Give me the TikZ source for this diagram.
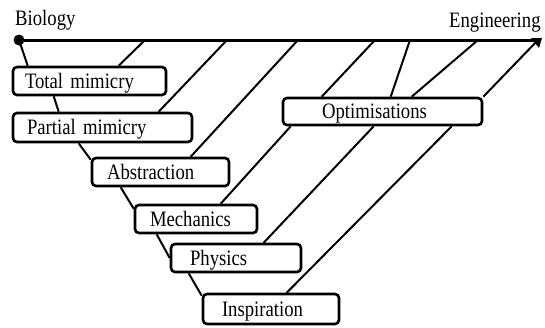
\documentclass[tikz,border=0pt]{standalone}
\usepackage{fontspec}
\newfontfamily\lbl[FakeStretch=0.85,WordSpace=0.8]{Liberation Serif}
\usetikzlibrary{backgrounds}
\tikzset{
  box/.style={draw, fill=white, line width=2.6pt, rounded corners=4pt, inner ysep=0pt,
    text height=18pt, text depth=4pt, align=left, font=\lbl\fontsize{22}{24}\selectfont},
  conn/.style={line width=2pt},
  ttl/.style={anchor=base west, inner sep=0pt, font=\lbl\fontsize{22}{24}\selectfont}
}
\begin{document}
\begin{tikzpicture}[x=1pt,y=-1pt]
\useasboundingbox (0,0) rectangle (545,327);
\node[ttl] (biol) at (15,25) {Biology};
\node[ttl] (engl) at (449,27) {Engineering};
\coordinate (bio) at (19,40);
\coordinate (eng) at (538,40);
\coordinate (t1) at (145,40);
\coordinate (t2) at (227,40);
\coordinate (t3) at (298,40);
\coordinate (t4) at (375,40);
\coordinate (t5) at (410,40);
\coordinate (t6) at (478,40);

\node[box, minimum width=153pt, minimum height=28pt, text width=129pt, inner xsep=12pt] (tm) at (89.5,81) {Total mimicry};
\node[box, minimum width=179pt, minimum height=29pt, text width=151pt, inner xsep=14pt] (pm) at (102.5,127.5) {Partial mimicry};
\node[box, minimum width=137pt, minimum height=28pt, text width=107pt, inner xsep=15pt] (abs) at (160.5,172) {Abstraction};
\node[box, minimum width=122pt, minimum height=28pt, text width=92pt, inner xsep=15pt] (mech) at (196,219) {Mechanics};
\node[box, minimum width=130pt, minimum height=28pt, text width=92pt, inner xsep=19pt] (phys) at (236,258) {Physics};
\node[box, minimum width=136pt, minimum height=30pt, text width=98pt, inner xsep=19pt] (insp) at (271,309) {Inspiration};
\node[box, minimum width=199pt, minimum height=27pt, text width=121pt, inner xsep=39pt] (opt) at (382.5,111.5) {Optimisations};

\begin{scope}[on background layer]
\draw[line width=3pt] (bio) -- (eng);
\fill (bio) circle (5.5);
\fill (eng) ++(-7,-2) -- ++(11,0) -- ++(-3,10) -- cycle;
% left chain
\draw[conn] (bio) -- ([xshift=16pt]tm.north west);
\draw[conn] ([xshift=42pt]tm.south west) -- ([xshift=47pt]pm.north west);
\draw[conn] ([xshift=67pt]pm.south west) -- ([yshift=-3pt]abs.north west);
\draw[conn] ([xshift=30pt]abs.south west) -- ([yshift=-5pt]mech.north west);
\draw[conn] ([xshift=23pt]mech.south west) -- (phys.west);
\draw[conn] ([xshift=19pt]phys.south west) -- ([yshift=-3pt]insp.north west);
% diagonals from the top line
\draw[conn] (t1) -- ([xshift=107pt]tm.north west);
\draw[conn] (t2) -- ([xshift=147pt]pm.north west);
\draw[conn] (t3) -- ([xshift=100pt]abs.north west);
\draw[conn] (t4) -- ([xshift=40pt]opt.north west);
\draw[conn] (t5) -- ([xshift=109pt]opt.north west);
\draw[conn] (t6) -- ([xshift=130pt]opt.north west);
\draw[conn] (eng) -- (opt.north east);
% from Optimisations
\draw[conn] ([xshift=9pt]opt.south west) -- ([xshift=87pt]mech.north west);
\draw[conn] ([xshift=92pt]opt.south west) -- ([xshift=94pt]phys.north west);
\draw[conn] ([xshift=170pt]opt.south west) -- ([xshift=85pt]insp.north west);
\end{scope}
\end{tikzpicture}
\end{document}
